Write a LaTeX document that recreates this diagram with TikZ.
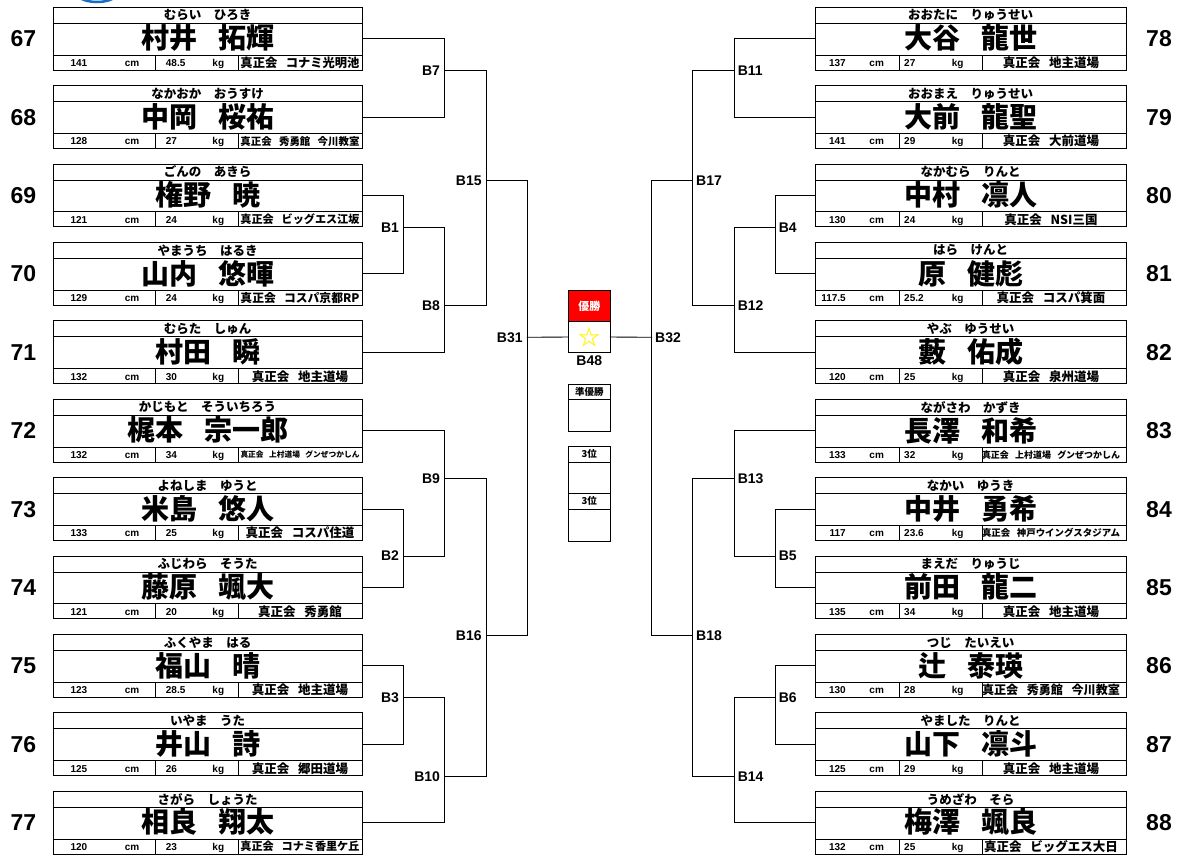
\documentclass[tikz,border=0pt]{standalone}
\usepackage{fontspec}
\setmainfont{Liberation Sans}
\newfontfamily\jp{Noto Sans CJK JP}
\usepackage{graphicx}
\newsavebox\fitbox
\newcommand\fitto[2]{\sbox\fitbox{#2}\ifdim\wd\fitbox>#1\relax\resizebox{#1}{!}{\usebox\fitbox}\else\usebox\fitbox\fi}
\newcommand\sepF{\hspace{1em}}
\newcommand\sepN{\hspace{0.75em}}
\newcommand\sepC{\hspace{0.7em}}
\tikzset{
  wire/.style={line width=0.9pt, line cap=rect},
  lbox/.style={draw, line width=0.9pt, minimum width=309pt, minimum height=62.7pt, inner sep=0pt, outer sep=0pt, anchor=north west},
  rbox/.style={lbox, minimum width=311pt},
  furi/.style={font=\jp\bfseries\fontsize{12.5}{13}\selectfont, inner sep=0pt},
  nm/.style={font=\jp\bfseries\fontsize{28}{30}\selectfont, inner sep=0pt},
  num/.style={font=\bfseries\fontsize{10}{11}\selectfont, inner sep=0pt, anchor=base},
  club/.style={font=\jp\bfseries\fontsize{12.5}{13}\selectfont, inner sep=0pt},
  seed/.style={font=\bfseries\fontsize{23}{24}\selectfont, inner sep=0pt},
  blab/.style={font=\bfseries\fontsize{14}{15}\selectfont, inner sep=0pt},
  cbox/.style={draw, line width=0.9pt, minimum width=42pt, inner sep=0pt, outer sep=0pt, anchor=north west},
  ctext/.style={font=\jp\bfseries\fontsize{9.5}{10}\selectfont, inner sep=0pt}
}
\newcommand\lentry[6]{%
  \pgfmathsetmacro\entryY{7.3+78.4*#1}%
  \node[lbox] (L#1) at (53,\entryY) {};
  \draw[wire] (53,\entryY+16) -- (362,\entryY+16);
  \draw[wire] (53,\entryY+47.7) -- (362,\entryY+47.7);
  \draw[wire] (155,\entryY+47.7) -- (155,\entryY+62.7);
  \draw[wire] (238,\entryY+47.7) -- (238,\entryY+62.7);
  \node[furi] (L#1f) at (207.5,\entryY+8) {#2};
  \node[nm] (L#1n) at (207.5,\entryY+31) {#3};
  \node[num, anchor=base east] (L#1h) at (87.5,\entryY+59.2) {#4};
  \node[num] (L#1c) at (132,\entryY+59.2) {cm};
  \node[num, anchor=base west] (L#1w) at (165.7,\entryY+59.2) {#5};
  \node[num] (L#1k) at (218.3,\entryY+59.2) {kg};
  \node[club] (L#1d) at (300,\entryY+55.4) {\fitto{119pt}{#6}};
  \node[seed] (L#1s) at (23.3,\entryY+31.4) {\the\numexpr67+#1\relax};
}
\newcommand\rentry[6]{%
  \pgfmathsetmacro\entryY{7.3+78.4*#1}%
  \node[rbox] (R#1) at (815,\entryY) {};
  \draw[wire] (815,\entryY+16) -- (1126,\entryY+16);
  \draw[wire] (815,\entryY+47.7) -- (1126,\entryY+47.7);
  \draw[wire] (899.3,\entryY+47.7) -- (899.3,\entryY+62.7);
  \draw[wire] (982.7,\entryY+47.7) -- (982.7,\entryY+62.7);
  \node[furi] (R#1f) at (970.5,\entryY+8) {#2};
  \node[nm] (R#1n) at (970.5,\entryY+31) {#3};
  \node[num, anchor=base east] (R#1h) at (846,\entryY+59.2) {#4};
  \node[num] (R#1c) at (876.7,\entryY+59.2) {cm};
  \node[num, anchor=base west] (R#1w) at (904,\entryY+59.2) {#5};
  \node[num] (R#1k) at (957.7,\entryY+59.2) {kg};
  \node[club] (R#1d) at (1051,\entryY+55.4) {\fitto{138pt}{#6}};
  \node[seed] (R#1s) at (1159,\entryY+31.4) {\the\numexpr78+#1\relax};
}
\begin{document}
\begin{tikzpicture}[x=1pt, y=-1pt]
\useasboundingbox (0,0) rectangle (1179,857);
\fill[white] (0,0) rectangle (1179,857);
\begin{scope}
  \clip (0,0) rectangle (1179,857);
  \draw[line width=2.5pt, color={rgb,255:red,20;green,110;blue,200}] (97,-19) ellipse (30 and 21);
\end{scope}

\lentry{0}{むらい\sepF ひろき}{村井\sepN 拓輝}{141}{48.5}{真正会\sepC コナミ光明池}
\lentry{1}{なかおか\sepF おうすけ}{中岡\sepN 桜祐}{128}{27}{真正会\sepC 秀勇館\sepC 今川教室}
\lentry{2}{ごんの\sepF あきら}{権野\sepN 暁}{121}{24}{真正会\sepC ビッグエス江坂}
\lentry{3}{やまうち\sepF はるき}{山内\sepN 悠暉}{129}{24}{真正会\sepC コスパ京都RP}
\lentry{4}{むらた\sepF しゅん}{村田\sepN 瞬}{132}{30}{真正会\sepC 地主道場}
\lentry{5}{かじもと\sepF そういちろう}{梶本\sepN 宗一郎}{132}{34}{真正会\sepC 上村道場\sepC グンぜつかしん}
\lentry{6}{よねしま\sepF ゆうと}{米島\sepN 悠人}{133}{25}{真正会\sepC コスパ住道}
\lentry{7}{ふじわら\sepF そうた}{藤原\sepN 颯大}{121}{20}{真正会\sepC 秀勇館}
\lentry{8}{ふくやま\sepF はる}{福山\sepN 晴}{123}{28.5}{真正会\sepC 地主道場}
\lentry{9}{いやま\sepF うた}{井山\sepN 詩}{125}{26}{真正会\sepC 郷田道場}
\lentry{10}{さがら\sepF しょうた}{相良\sepN 翔太}{120}{23}{真正会\sepC コナミ香里ケ丘}

\rentry{0}{おおたに\sepF りゅうせい}{大谷\sepN 龍世}{137}{27}{真正会\sepC 地主道場}
\rentry{1}{おおまえ\sepF りゅうせい}{大前\sepN 龍聖}{141}{29}{真正会\sepC 大前道場}
\rentry{2}{なかむら\sepF りんと}{中村\sepN 凛人}{130}{24}{真正会\sepC NSI三国}
\rentry{3}{はら\sepF けんと}{原\sepN 健彪}{117.5}{25.2}{真正会\sepC コスパ箕面}
\rentry{4}{やぶ\sepF ゆうせい}{藪\sepN 佑成}{120}{25}{真正会\sepC 泉州道場}
\rentry{5}{ながさわ\sepF かずき}{長澤\sepN 和希}{133}{32}{真正会\sepC 上村道場\sepC グンぜつかしん}
\rentry{6}{なかい\sepF ゆうき}{中井\sepN 勇希}{117}{23.6}{真正会\sepC 神戸ウイングスタジアム}
\rentry{7}{まえだ\sepF りゅうじ}{前田\sepN 龍二}{135}{34}{真正会\sepC 地主道場}
\rentry{8}{つじ\sepF たいえい}{辻\sepN 泰瑛}{130}{28}{真正会\sepC 秀勇館\sepC 今川教室}
\rentry{9}{やました\sepF りんと}{山下\sepN 凛斗}{125}{29}{真正会\sepC 地主道場}
\rentry{10}{うめざわ\sepF そら}{梅澤\sepN 颯良}{132}{25}{真正会\sepC ビッグエス大日}

% centre boxes
\node[cbox, fill=red, minimum height=31.7pt] (champ) at (568.3,290) {};
\node[ctext, text=white, font=\jp\bfseries\fontsize{11}{12}\selectfont] (champt) at (champ.center) {優勝};
\node[cbox, minimum height=30.6pt] (star) at (568.3,321.7) {};
\node[text=yellow, font=\jp\bfseries\fontsize{22}{22}\selectfont, inner sep=0pt] (starsym) at (star.center) {☆};
\node[blab] (B48) at (589.3,360.7) {B48};

\node[cbox, minimum height=47.4pt] (ru) at (568.3,384.3) {};
\draw[wire] (568.3,399.3) -- (610.3,399.3);
\node[ctext] (rut) at (589.3,391.8) {準優勝};
\node[cbox, minimum height=47pt] (th1) at (568.3,446.3) {};
\draw[wire] (568.3,462) -- (610.3,462);
\node[ctext] (th1t) at (589.3,454.2) {3位};
\node[cbox, minimum height=48pt] (th2) at (568.3,493.3) {};
\draw[wire] (568.3,509) -- (610.3,509);
\node[ctext] (th2t) at (589.3,501.2) {3位};

% left bracket points
\coordinate (m7) at (444.7,70.3);
\coordinate (m1) at (403.7,227.3);
\coordinate (m8) at (444.7,305.3);
\coordinate (m15) at (486.3,180.3);
\coordinate (m9) at (444.7,478.3);
\coordinate (m2) at (403.7,556);
\coordinate (m3) at (403.7,697.3);
\coordinate (m10) at (444.7,776.3);
\coordinate (m16) at (486.3,635.3);
\coordinate (m31) at (527.3,337.3);
% right bracket points
\coordinate (m11) at (734.3,70.3);
\coordinate (m4) at (775.3,227.3);
\coordinate (m12) at (734.3,305.3);
\coordinate (m17) at (692.7,180.3);
\coordinate (m13) at (734.3,478.3);
\coordinate (m5) at (775.3,556);
\coordinate (m6) at (775.3,697.3);
\coordinate (m14) at (734.3,776.3);
\coordinate (m18) at (692.7,635.3);
\coordinate (m32) at (651.7,337.3);

\draw[wire] (L0.east) -| (m7) |- (L1.east);
\draw[wire] (L2.east) -| (m1) |- (L3.east);
\draw[wire] (m1) -| (m8) |- (L4.east);
\draw[wire] (m7) -| (m15) |- (m8);
\draw[wire] (L5.east) -| (m9) |- (m2);
\draw[wire] (L6.east) -| (m2) |- (L7.east);
\draw[wire] (L8.east) -| (m3) |- (L9.east);
\draw[wire] (m3) -| (m10) |- (L10.east);
\draw[wire] (m9) -| (m16) |- (m10);
\draw[wire] (m15) -| (m31) |- (m16);
\draw[wire] (m31) -- (star.west);

\draw[wire] (R0.west) -| (m11) |- (R1.west);
\draw[wire] (R2.west) -| (m4) |- (R3.west);
\draw[wire] (m4) -| (m12) |- (R4.west);
\draw[wire] (m11) -| (m17) |- (m12);
\draw[wire] (R5.west) -| (m13) |- (m5);
\draw[wire] (R6.west) -| (m5) |- (R7.west);
\draw[wire] (R8.west) -| (m6) |- (R9.west);
\draw[wire] (m6) -| (m14) |- (R10.west);
\draw[wire] (m13) -| (m18) |- (m14);
\draw[wire] (m17) -| (m32) |- (m18);
\draw[wire] (m32) -- (star.east);

% labels
\foreach \c/\t in {m7/B7, m1/B1, m8/B8, m15/B15, m9/B9, m2/B2, m3/B3, m10/B10, m16/B16, m31/B31}
  \node[blab, anchor=east] (lab\t) at ([xshift=-4.5pt]\c) {\t};
\foreach \c/\t in {m11/B11, m4/B4, m12/B12, m17/B17, m13/B13, m5/B5, m6/B6, m14/B14, m18/B18, m32/B32}
  \node[blab, anchor=west] (lab\t) at ([xshift=3.3pt]\c) {\t};
\end{tikzpicture}
\end{document}
